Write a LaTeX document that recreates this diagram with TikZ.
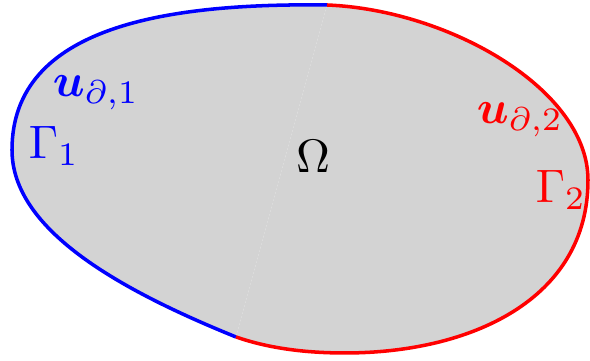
\documentclass[tikz,border=0pt]{standalone}
\usepackage{bm}
\definecolor{fillgray}{RGB}{211,211,211}
\begin{document}
\begin{tikzpicture}[x=0.213pt,y=-0.213pt,
  bnd/.style={line width=0.75pt},
  lbl/.style={inner sep=0pt}]
\useasboundingbox (0,0) rectangle (590,361);
\coordinate (T) at (327,5);
\coordinate (L) at (12,150);
\coordinate (B) at (236,337);
\coordinate (R) at (588,180);
\coordinate (Bot) at (345,353);
% fills
\fill[fillgray] (T) .. controls (170,3) and (12,25) .. (L)
  .. controls (12,230) and (120,290) .. (B) -- cycle;
\fill[fillgray] (T) .. controls (450,10) and (588,90) .. (R)
  .. controls (588,300) and (470,353) .. (Bot)
  .. controls (300,353) and (265,347) .. (B) -- cycle;
% boundaries
\draw[bnd,blue] (T) .. controls (170,3) and (12,25) .. (L)
  .. controls (12,230) and (120,290) .. (B);
\draw[bnd,red] (T) .. controls (450,10) and (588,90) .. (R)
  .. controls (588,300) and (470,353) .. (Bot)
  .. controls (300,353) and (265,347) .. (B);
% labels
\node[lbl,blue] (u1) at (96,93) {$\bm{u}_{\partial,1}$};
\node[lbl,blue] (g1) at (54,146) {$\Gamma_1$};
\node[lbl] (om) at (313,156) {$\Omega$};
\node[lbl,red] (u2) at (520,120) {$\bm{u}_{\partial,2}$};
\node[lbl,red] (g2) at (561,190) {$\Gamma_2$};
\end{tikzpicture}
\end{document}
